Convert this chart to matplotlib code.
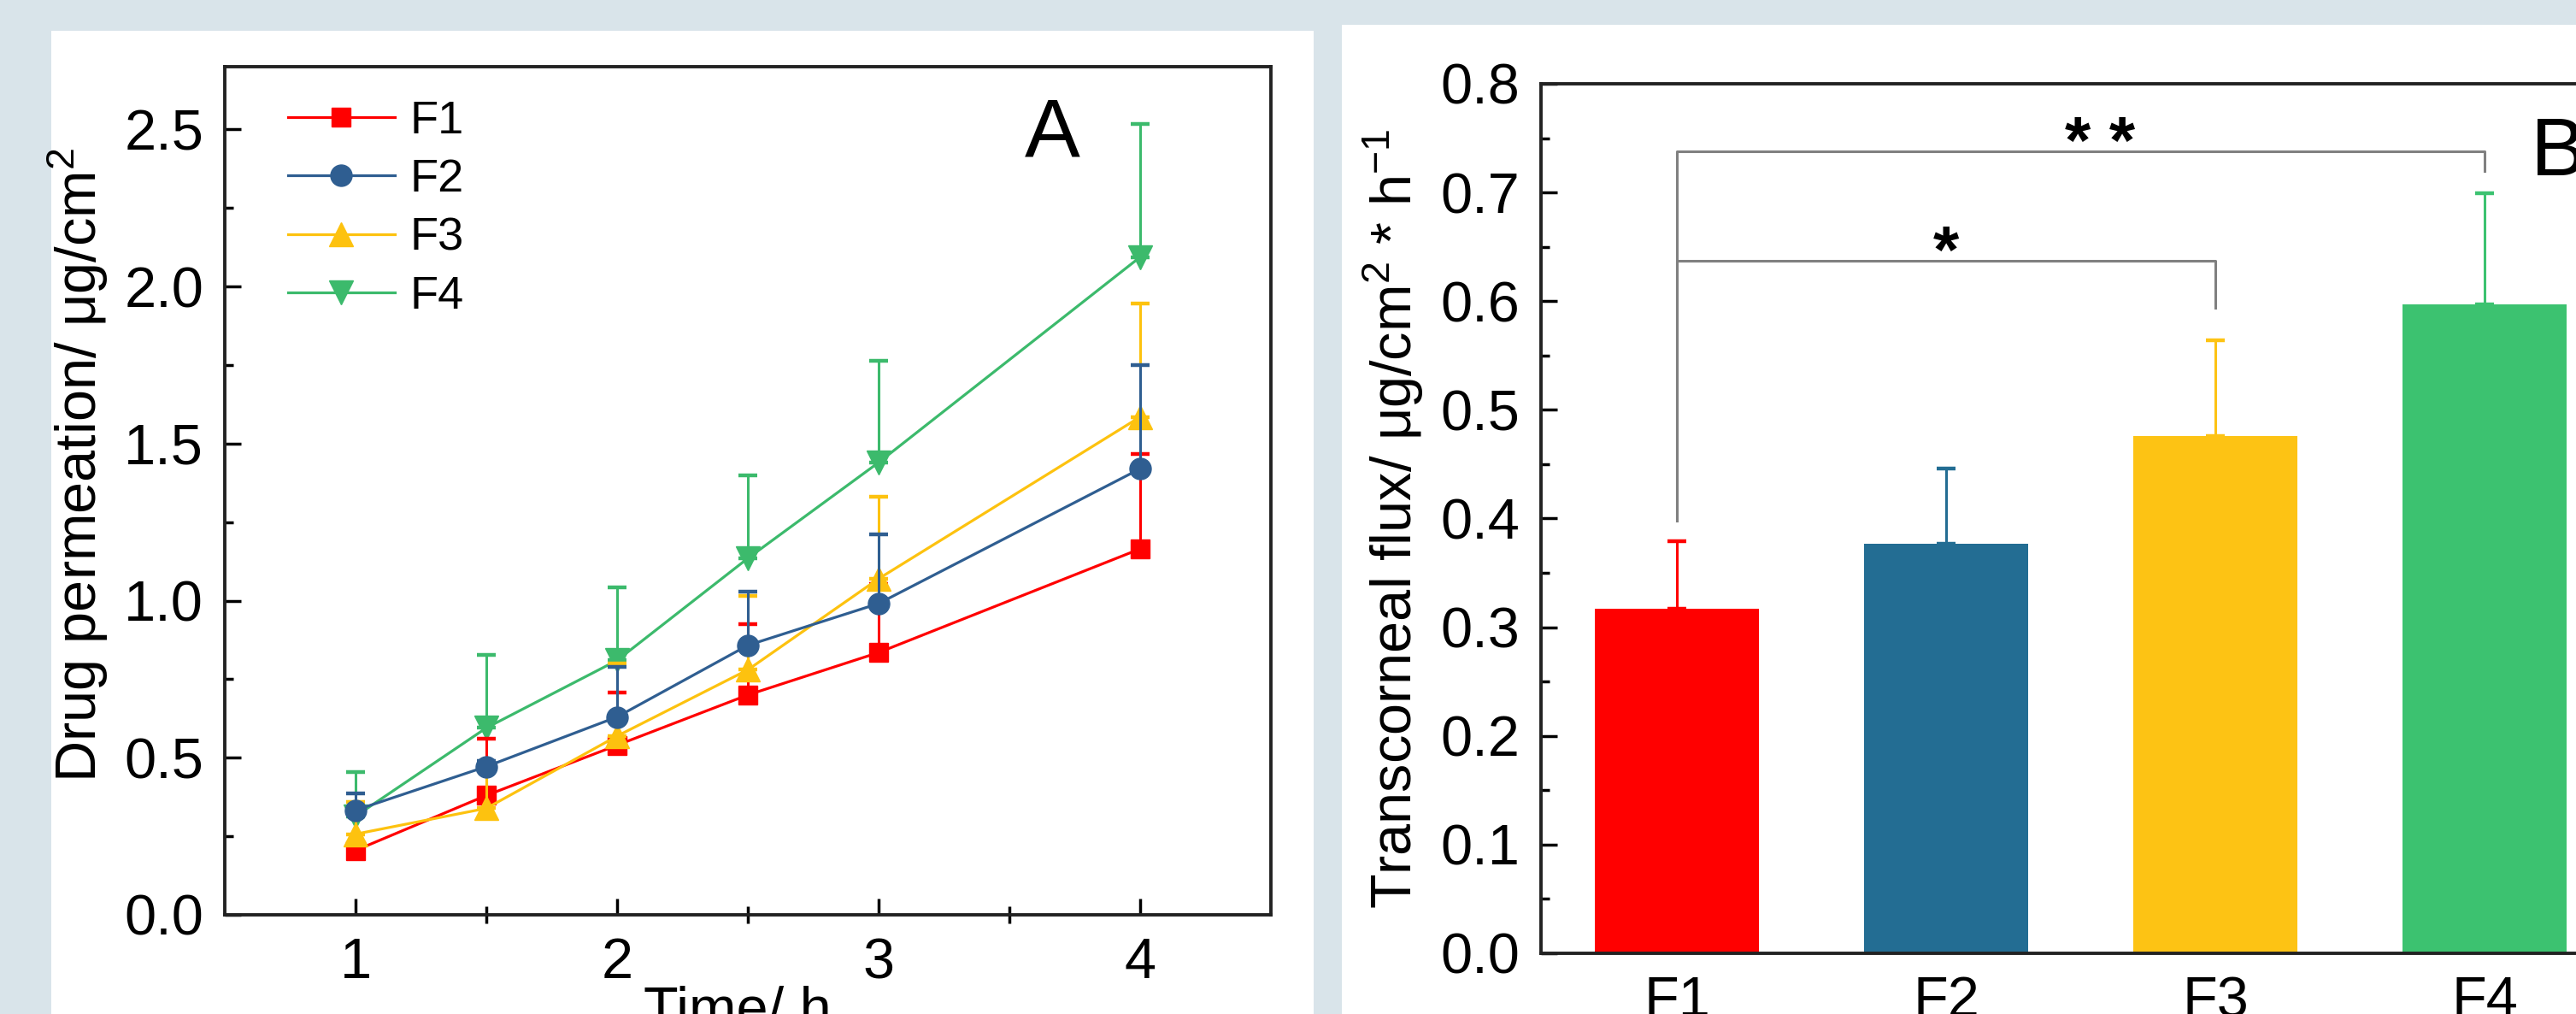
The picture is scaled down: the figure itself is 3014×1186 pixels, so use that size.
import matplotlib
matplotlib.use('Agg')
import matplotlib.pyplot as plt
from matplotlib.patches import Rectangle
from matplotlib.ticker import MultipleLocator, FixedLocator
import numpy as np

plt.rcParams['font.family'] = ['Liberation Sans', 'DejaVu Sans']
plt.rcParams['mathtext.fontset'] = 'custom'
plt.rcParams['mathtext.rm'] = 'Liberation Sans'
plt.rcParams['mathtext.it'] = 'Liberation Sans:italic'
plt.rcParams['mathtext.bf'] = 'Liberation Sans:bold'

# Panel A data - drug permeation vs time
time_h = [1, 1.5, 2, 2.5, 3, 4]
names = ['F1', 'F2', 'F3', 'F4']
perm_f1 = [0.205, 0.38, 0.54, 0.70, 0.835, 1.165]
perm_f2 = [0.333, 0.472, 0.63, 0.858, 0.991, 1.42]
perm_f3 = [0.257, 0.339, 0.569, 0.78, 1.07, 1.585]
perm_f4 = [0.314, 0.595, 0.81, 1.135, 1.44, 2.094]
sd_f1 = [0.128, 0.18, 0.167, 0.225, 0.217, 0.303]
sd_f2 = [0.054, 0.018, 0.16, 0.171, 0.221, 0.33]
sd_f3 = [0.102, 0.136, 0.231, 0.236, 0.26, 0.361]
sd_f4 = [0.141, 0.232, 0.232, 0.265, 0.325, 0.424]

# Panel B data - transcorneal flux
flux = [0.317, 0.377, 0.476, 0.597]
flux_sd = [0.062, 0.069, 0.088, 0.102]
sig_pairs = [(1, 3), (1, 4)]
sig_text = ['*', '* *']
sig_level = [0.637, 0.738]
sig_left_end = [0.398, 0.398]
sig_right_end = [0.594, 0.72]
sig_text_x = [2.0, 2.57]
sig_text_y = [0.626, 0.727]

line_colors = ['#ff0000', '#2f5e91', '#fdc20f', '#3cba6c']
bar_colors = ['#ff0000', '#236d93', '#fdc314', '#3cc270']
markers = ['s', 'o', '^', 'v']
msizes = [16, 18, 20, 20]

fig = plt.figure(figsize=(30.14, 11.86), dpi=100)
fig.patch.set_facecolor('#d9e4ea')
fig.add_artist(Rectangle((0.0199, 0), 0.4900, 0.9696, transform=fig.transFigure,
                         facecolor='white', edgecolor='none', zorder=0))
fig.add_artist(Rectangle((0.5209, 0), 0.4791, 0.9755, transform=fig.transFigure,
                         facecolor='white', edgecolor='none', zorder=0))

# ---------- A ----------
ax = fig.add_axes([0.08726, 0.09781, 0.40611, 0.83642])
perms = [perm_f1, perm_f2, perm_f3, perm_f4]
sds = [sd_f1, sd_f2, sd_f3, sd_f4]
handles = []
zo = [3, 6, 4, 2]
for i in range(4):
    ax.errorbar(time_h, perms[i], yerr=[np.zeros(len(sds[i])), sds[i]], fmt='none',
                ecolor=line_colors[i], elinewidth=2.2, capsize=8, capthick=3.2, zorder=zo[i])
    h, = ax.plot(time_h, perms[i], color=line_colors[i], lw=2.3, marker=markers[i],
                 ms=msizes[i], mec=line_colors[i], label=names[i], zorder=zo[i] + 0.5)
    handles.append(h)

ax.set_xlim(0.5, 4.5)
ax.set_ylim(0, 2.7)
ax.xaxis.set_major_locator(FixedLocator([1, 2, 3, 4]))
ax.xaxis.set_minor_locator(FixedLocator([1.5, 2.5, 3.5]))
ax.yaxis.set_major_locator(MultipleLocator(0.5))
ax.yaxis.set_minor_locator(MultipleLocator(0.25))
ax.set_xticklabels(['1', '2', '3', '4'])
ax.tick_params(axis='both', which='major', direction='in', length=13.5, width=2.5,
               labelsize=48, top=False, right=False)
ax.tick_params(axis='x', which='major', pad=19)
ax.tick_params(axis='y', which='major', pad=18)
ax.tick_params(axis='x', which='minor', direction='inout', length=14, width=2.5, top=False)
ax.tick_params(axis='y', which='minor', direction='in', length=7, width=2.5, right=False)
ax.yaxis.set_major_formatter(matplotlib.ticker.FormatStrFormatter('%.1f'))
for s in ax.spines.values():
    s.set_linewidth(2.8)
    s.set_color('#222222')
ax.set_ylabel('Drug permeation/ μg/cm$^{2}$', fontsize=48)
ax.yaxis.set_label_coords(-0.1095, 0.53)
ax.set_xlabel('Time/ h', fontsize=48, va='top')
ax.xaxis.set_label_coords(0.49, -0.0837)
ax.text(0.791, 0.895, 'A', transform=ax.transAxes, fontsize=70, ha='center', va='baseline')
ax.legend(handles=handles, loc='upper left', bbox_to_anchor=(0.0605, 0.961), frameon=False,
          fontsize=39, handlelength=2.3, handletextpad=0.33, labelspacing=0.34,
          borderpad=0, borderaxespad=0, numpoints=1)

# ---------- B ----------
bx = fig.add_axes([0.59821, 0.05987, 0.41855, 0.85750])
xpos = np.arange(1, len(names) + 1)
bx.bar(xpos, flux, width=0.61, color=bar_colors, zorder=2)
for i in range(len(names)):
    bx.errorbar(xpos[i], flux[i], yerr=[[0], [flux_sd[i]]], fmt='none', ecolor=bar_colors[i],
                elinewidth=2.2, capsize=8, capthick=3.2, zorder=1)
for k, (a, b) in enumerate(sig_pairs):
    bx.plot([a, a, b, b], [sig_left_end[k], sig_level[k], sig_level[k], sig_right_end[k]],
            color='#808080', lw=2.2, zorder=3)
    bx.text(sig_text_x[k], sig_text_y[k], sig_text[k], fontsize=56, fontweight='bold',
            ha='center', va='baseline')
bx.set_xlim(0.495, 4.5)
bx.set_ylim(0, 0.8)
bx.set_xticks(xpos)
bx.set_xticklabels(names)
bx.yaxis.set_major_locator(MultipleLocator(0.1))
bx.yaxis.set_minor_locator(MultipleLocator(0.05))
bx.yaxis.set_major_formatter(matplotlib.ticker.FormatStrFormatter('%.1f'))
bx.tick_params(axis='x', which='major', length=0, pad=19, labelsize=48)
bx.tick_params(axis='y', which='major', direction='in', length=13.5, width=2.5, pad=18,
               labelsize=48, right=False)
bx.tick_params(axis='y', which='minor', direction='in', length=7, width=2.5, right=False)
for s in bx.spines.values():
    s.set_linewidth(2.8)
    s.set_color('#222222')
bx.set_ylabel('Transcorneal flux/ μg/cm$^{2}$ * h$^{-1}$', fontsize=48)
bx.yaxis.set_label_coords(-0.107, 0.5)
bx.text(4.17, 0.716, 'B', fontsize=70, ha='left', va='baseline')

fig.savefig('out.png', dpi=100, facecolor=fig.get_facecolor())
